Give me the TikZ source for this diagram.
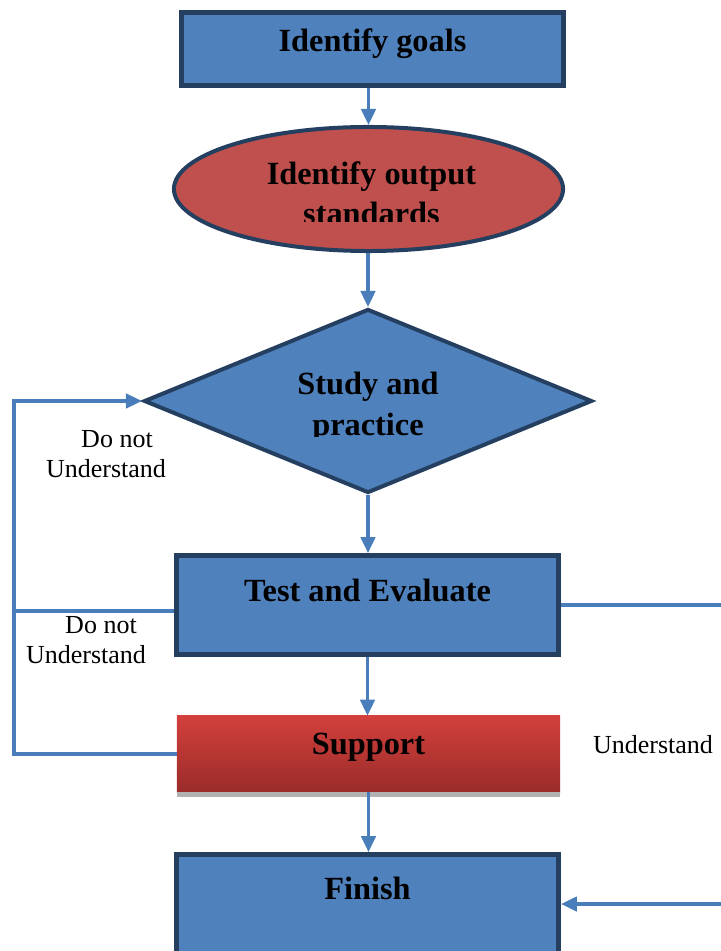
\documentclass[tikz,border=0pt]{standalone}
\usepackage{fontspec}
\setmainfont{Liberation Serif}
\usetikzlibrary{calc, positioning}
\usetikzlibrary{shapes.geometric}
\usetikzlibrary{arrows.meta}

\definecolor{boxblue}{HTML}{4F81BD}
\definecolor{edgeblue}{HTML}{243F60}
\definecolor{ovalred}{HTML}{C0504D}
\definecolor{linkblue}{HTML}{4A7EBB}
\definecolor{suptop}{HTML}{D2403C}
\definecolor{supbot}{HTML}{9A2C2A}

\begin{document}
\begin{tikzpicture}[x=0.025cm, y=-0.025cm,
  stage/.style={draw=edgeblue, line width=0.12cm, fill=boxblue, minimum width=9.55cm, inner sep=0pt},
  bigtxt/.style={font=\fontsize{23}{28.5}\selectfont\bfseries, align=center},
  smalltxt/.style={font=\fontsize{18.5}{21.3}\selectfont, align=center},
  link/.style={draw=linkblue, line width=0.085cm},
  arr/.style={link, -{Triangle[length=0.4cm, width=0.36cm]}}]
\useasboundingbox (0,0) rectangle (721,951);
\clip (0,0) rectangle (721,951);

\node[stage, bigtxt, minimum height=1.825cm, text height=0.6cm, text depth=0.45cm] (goals) at (372.5,49) {Identify goals};
\node[ellipse, draw=edgeblue, line width=0.1cm, fill=ovalred, minimum width=9.725cm, minimum height=3.1cm, inner sep=0pt] (stdrd) at (368.5,189) {};
\node[diamond, draw=edgeblue, line width=0.1cm, fill=boxblue, minimum width=11.2cm, minimum height=4.6cm, inner sep=0pt] (study) at (368,401) {};
\node[stage, bigtxt, minimum height=2.475cm, text height=0.6cm, text depth=0.8cm] (test) at (367.5,605) {Test and Evaluate};
\node[bigtxt, minimum width=9.575cm, minimum height=1.9cm, inner sep=0pt, text height=0.6cm, text depth=0.6cm,
  top color=suptop, bottom color=supbot] (sup) at (368.5,754) {Support};
\node[stage, bigtxt, minimum height=2.475cm, text height=0.6cm, text depth=0.85cm] (fin) at (367.5,904) {Finish};

\begin{scope}
\clip (150,140) rectangle (600,222);
\node[bigtxt, anchor=base] (stdrdtxt) at (371.5,225) {Identify output\\standards};
\end{scope}
\begin{scope}
\clip (150,340) rectangle (600,436);
\node[bigtxt, anchor=base] (studytxt) at (368,435) {Study and\\practice};
\end{scope}

\fill[gray!60] (sup.south west) rectangle ($(sup.south east)+(0,5)$);

\coordinate (loop) at (14,401);
\coordinate (rgt) at (745,605);

\draw[arr] (goals.south -| stdrd.north) -- (stdrd.north);
\draw[arr] (stdrd.south -| study.north) -- (study.north);
\draw[arr] (study.south) -- (test.north -| study.south);
\draw[arr] (test.south) -- (sup.north -| test.south);
\draw[arr] (sup.south) -- (fin.north -| sup.south);
\draw[arr] (sup.west) -| (loop) -- (study.west);
\draw[link] ($(test.west)+(0,6)$) -- ($(test.west -| loop)+(0,6)$);
\draw[arr] (test.east) -- (rgt) |- (fin.east);

\node[smalltxt, anchor=base] (dn1) at (106,477) {\hspace*{0.55cm}Do not\\Understand};
\node[smalltxt, anchor=base] (dn2) at (86,663) {\hspace*{0.75cm}Do not\\Understand};
\node[smalltxt, anchor=base] (und) at (653,753) {Understand};
\end{tikzpicture}
\end{document}
